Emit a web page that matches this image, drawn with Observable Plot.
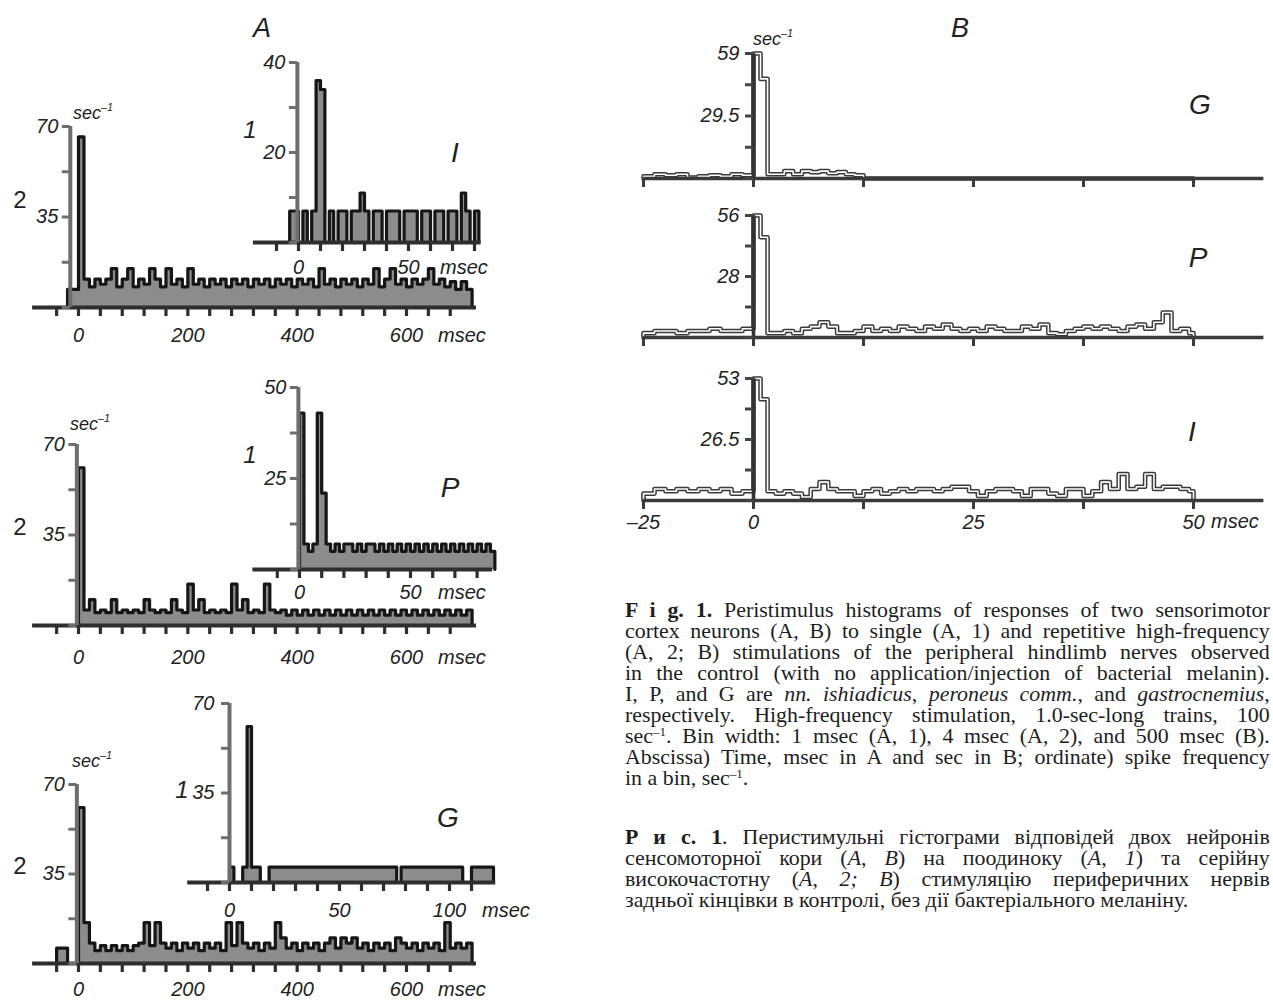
<!DOCTYPE html>
<html>
<head>
<meta charset="utf-8">
<script src="https://cdn.jsdelivr.net/npm/d3@7"></script>
<script src="https://cdn.jsdelivr.net/npm/@observablehq/plot@0.6"></script>
<style>
  body { margin: 0; background: #fff; }
  #root { position: relative; width: 1273px; height: 1000px; overflow: hidden; background: #fff;
          font-family: "Liberation Sans", Arial, sans-serif; }
  .lab { position: absolute; white-space: nowrap; color: #222; font-style: italic; line-height: 1; }
  .cap { position: absolute; left: 625px; width: 597px; font-family: "Liberation Serif", "Times New Roman", serif;
         font-size: 20.3px; line-height: 21px; color: #1e1e1e; transform: scaleX(1.08); transform-origin: 0 0; }
  .cap div { white-space: nowrap; text-align: justify; text-align-last: justify; }
  .cap div.last { text-align-last: left; }
  .cap sup { font-size: 0.6em; line-height: 0; vertical-align: 0.6em; }
</style>
</head>
<body>
<div id="root"></div>
<script>
// ================= DATA =================
// Neuron A, repetitive stimulation (A,2): spike frequency (sec^-1) per 10-msec step
const aMainBin = 10;
const aI_mainStart = -20;
const aI_main = [7,7,66,11,8,11,9,11,15,8,
                 11,15,8,11,9,15,11,8,15,9,
                 11,8,15,9,11,8,11,9,11,8,
                 11,9,11,8,11,9,11,8,11,9,
                 11,8,11,9,11,8,15,9,11,8,
                 11,9,11,8,11,9,15,8,11,15,
                 9,11,8,11,9,11,15,9,11,8,
                 10,7,10,7];
const aP_mainStart = 0;
const aP_main = [61,6,10,5,6,5,10,5,6,5,
                 6,5,10,6,5,6,5,10,6,5,
                 16,6,10,5,6,5,6,5,16,6,
                 10,5,6,5,16,6,5,6,4,6,
                 4,6,4,6,4,6,4,6,4,6,
                 4,6,4,6,4,6,4,6,4,6,
                 4,6,4,6,4,6,4,6,4,6,
                 4,6];
const aG_mainStart = -40;
const aG_main = [6,6,0,0,61,16,8,5,7,5,
                 7,5,7,5,7,8,16,7,16,8,
                 6,8,5,8,6,8,5,8,6,8,
                 5,16,7,16,8,6,8,5,8,6,
                 16,10,6,8,5,8,6,8,5,8,
                 10,6,10,8,10,6,8,5,8,6,
                 8,5,10,8,6,8,5,8,6,8,
                 5,16,6,8,6,8];

// Neuron A, single stimulation (A,1) insets: per 2-msec step
const aInsBin = 2;
const aI_insStart = -4;
const aI_ins = [7,7,0,7,0,7,36,34,0,7,
                0,7,7,0,7,7,11,7,0,7,
                7,0,7,7,7,0,7,7,7,0,
                7,7,0,7,7,0,7,7,0,11,
                7,0,7];
const aP_insStart = 0;
const aP_ins = [43,7,5,7,43,21,7,5,7,5,
                7,7,5,7,5,7,7,5,7,5,
                7,5,7,5,7,5,7,5,7,5,
                7,5,7,5,7,5,7,5,7,5,
                7,5,7,5];
const aG_insStart = 0;
const aG_ins = [6,0,0,6,61,6,6,0,0,6,
                6,6,6,6,6,6,6,6,6,6,
                6,6,6,6,6,6,6,6,6,6,
                6,6,6,6,6,6,6,6,0,6,
                6,6,6,6,6,6,6,6,6,6,
                6,6,6,0,0,6,6,6,6,6];

// Neuron B: step start times (msec) and values (sec^-1)
const bTime = [-25,-22.5,-20,-17.5,-15,-12.5,-10,-7.5,-5,-2.5,
               0,0.8,
               1.6,2.5,3.5,4.5,5.5,6.5,7.5,8.5,9.5,10.5,
               11.5,12.5,13.5,14.5,15.5,16.5,17.5,18.5,19.5,20.5,
               21.5,22.5,23.5,24.5,25.5,26.5,27.5,28.5,29.5,30.5,
               31.5,32.5,33.5,34.5,35.5,36.5,37.5,38.5,39.5,40.5,
               41.5,42.5,43.5,44.5,45.5,46.5,47.5,48.5,49.5];
const bEnd = 50;
const bG = [1,2,1.5,2,0.5,1,1.5,1,2,1.5,
            59,47,
            2,2,3.5,2,3.5,3,3.5,2.5,3,2,
            1.5,0,0,0,0,0,0,0,0,0,
            0,0,0,0,0,0,0,0,0,0,
            0,0,0,0,0,0,0,0,0,0,
            0,0,0,0,0,0,0,0,0];
const bP = [2,3,3,2,3,3,4,3,3,4,
            56,46,
            2,2,3,2,4,5,7,5,2,2,
            3,5,3,4,3,5,4,3,5,4,
            6,4,3,4,3,5,4,3,3,5,
            4,6,2,1.5,3,4,5,4,5,4,
            3,5,6,4,7,11.5,3,4,2];
const bI = [3,5,4,5,4,5,4,5,3,4,
            53,44,
            4,3,4,3,1.5,5,8,5,4,4,
            2,4,5,3,4,5,4,5,5,4,
            5,6,6,4,2,4,5,5,4,2,
            5,5,3,2,5,5,2,4,8,5,
            11.5,5,6,11.5,5,6,6,5,4];

// Axis ticks / labels
const aMainXTicks = [-40,0,40,80,120,160,200,240,280,320,360,400,440,480,520,560,600,640,680];
const aMainXLabels = [0,200,400,600];
const aMainYTicks = [0,17.5,35,52.5,70];
const aMainYLabels = [70,35];
const aInsXTicks = [-10,0,10,20,30,40,50,60,70,80];
const aInsXLabels = [0,50];
const aGInsXTicks = [-10,0,10,20,30,40,50,60,70,80,90,100,110];
const aGInsXLabels = [0,50,100];
const aIInsYTicks = [0,10,20,30,40], aIInsYLabels = [40,20];
const aPInsYTicks = [0,12.5,25,37.5,50], aPInsYLabels = [50,25];
const aGInsYTicks = [0,17.5,35,52.5,70], aGInsYLabels = [70,35];
const bXTicks = [-25,0,12.5,25,37.5,50];
const bXLabels = [-25,0,25,50];
const bGYTicks = [0,14.75,29.5,44.25,59], bGYLabels = [59,29.5];
const bPYTicks = [0,14,28,42,56], bPYLabels = [56,28];
const bIYTicks = [0,13.25,26.5,39.75,53], bIYLabels = [53,26.5];

const capEn = [
  '<b>F i g. 1.</b> Peristimulus histograms of responses of two sensorimotor',
  'cortex neurons (A, B) to single (A, 1) and repetitive high-frequency',
  '(A, 2; B) stimulations of the peripheral hindlimb nerves observed',
  'in the control (with no application/injection of bacterial melanin).',
  'I, P, and G are <i>nn. ishiadicus</i>, <i>peroneus comm.</i>, and <i>gastrocnemius</i>,',
  'respectively. High-frequency stimulation, 1.0-sec-long trains, 100',
  'sec<sup>–1</sup>. Bin width: 1 msec (A, 1), 4 msec (A, 2), and 500 msec (B).',
  'Abscissa) Time, msec in A and sec in B; ordinate) spike frequency',
  'in a bin, sec<sup>–1</sup>.'
];
const capUk = [
  '<b>Р и с. 1</b>. Перистимульні гістограми відповідей двох нейронів',
  'сенсомоторної кори (<i>A</i>, <i>B</i>) на поодиноку (<i>A</i>, <i>1</i>) та серійну',
  'високочастотну (<i>A</i>, <i>2; B</i>) стимуляцію периферичних нервів',
  'задньої кінцівки в контролі, без дії бактеріального меланіну.'
];

// ================= DRAWING =================
const root = document.getElementById("root");
const FONT = "Liberation Sans, Arial, sans-serif";
const fmt = d => (d < 0 ? "–" + Math.abs(d) : String(d));

function stepData(start, bw, values) {
  const pts = [{t: start, v: 0}];
  values.forEach((v, i) => pts.push({t: start + i * bw, v}));
  const end = start + values.length * bw;
  pts.push({t: end, v: values[values.length - 1]}, {t: end, v: 0});
  return pts;
}
function traceData(times, values, end) {
  const pts = [{t: times[0], v: 0}];
  times.forEach((t, i) => pts.push({t, v: values[i]}));
  pts.push({t: end, v: values[values.length - 1]}, {t: end, v: 0});
  return pts;
}
function mount(box, xd, xr, yd, yr, marks) {
  const [L, T, W, H] = box;
  const svg = Plot.plot({
    width: W, height: H, marginTop: 0, marginRight: 0, marginBottom: 0, marginLeft: 0,
    x: {type: "linear", domain: xd, range: xr.map(v => v - L), axis: null},
    y: {type: "linear", domain: yd, range: yr.map(v => v - T), axis: null},
    style: {background: "transparent", overflow: "visible", fontFamily: FONT},
    marks
  });
  Object.assign(svg.style, {position: "absolute", left: L + "px", top: T + "px"});
  root.appendChild(svg);
}
function lab(text, x, y, o = {}) {
  const d = document.createElement("div");
  d.className = "lab";
  d.innerHTML = text;
  d.style.left = x + "px";
  d.style.top = y + "px";
  d.style.fontSize = (o.size || 20) + "px";
  if (o.normal) d.style.fontStyle = "normal";
  const tx = o.anchor === "start" ? "0" : o.anchor === "end" ? "-100%" : "-50%";
  d.style.transform = `translate(${tx}, -50%)`;
  root.appendChild(d);
}

// A-type histogram panel
function aPanel(c) {
  const pts = stepData(c.start, c.bw, c.values);
  const marks = [
    Plot.areaY(pts, {x: "t", y: "v", curve: "step-after", fill: "#8c8c8c"}),
    Plot.lineY(pts, {x: "t", y: "v", curve: "step-after", stroke: "#161616", strokeWidth: 3.2}),
    Plot.ruleY([0], {x1: c.xLine[0], x2: c.xLine[1], stroke: "#2e2e2e", strokeWidth: 4.2}),
    Plot.ruleX(c.xTicks, {y1: 0, y2: 0, insetBottom: -9, stroke: "#2e2e2e", strokeWidth: 3.2}),
    Plot.ruleX([c.yAt], {y1: 0, y2: c.yd[1], stroke: "#6e6e6e", strokeWidth: 4}),
    Plot.ruleY(c.yTicks, {x1: c.yAt, x2: c.yAt, insetLeft: -8, stroke: "#6e6e6e", strokeWidth: 3}),
    Plot.text(c.yLabels, {x: c.yAt, y: d => d, text: fmt, dx: c.yDx ?? -12, textAnchor: "end",
      fontSize: 20, fontStyle: "italic", fill: "#222"}),
    Plot.text(c.xLabels, {x: d => d, y: 0, text: fmt, dy: c.xDy, fontSize: 20, fontStyle: "italic", fill: "#222"})
  ];
  mount(c.box, c.xd, c.xr, c.yd, c.yr, marks);
}

// B-type trace panel (double-line outline)
function bPanel(c) {
  const pts = traceData(bTime, c.values, bEnd);
  const marks = [
    Plot.lineY(pts, {x: "t", y: "v", curve: "step-after", stroke: "#3a3a3a", strokeWidth: 4.6}),
    Plot.lineY(pts, {x: "t", y: "v", curve: "step-after", stroke: "#ffffff", strokeWidth: 1.6}),
    Plot.ruleY([0], {x1: -25, x2: 58, stroke: "#3a3a3a", strokeWidth: 3.6}),
    Plot.ruleX(bXTicks, {y1: 0, y2: 0, insetBottom: -9, stroke: "#3a3a3a", strokeWidth: 3}),
    Plot.ruleX([0], {y1: 0, y2: c.yd[1], stroke: "#333", strokeWidth: 3.6}),
    Plot.ruleY(c.yTicks, {x1: 0, x2: 0, insetLeft: -8, stroke: "#444", strokeWidth: 3}),
    Plot.text(c.yLabels, {x: 0, y: d => d, text: fmt, dx: -14, textAnchor: "end",
      fontSize: 20, fontStyle: "italic", fill: "#222"})
  ];
  if (c.xLabels) marks.push(Plot.text(c.xLabels, {x: d => d, y: 0, text: fmt, dy: 22,
      fontSize: 20, fontStyle: "italic", fill: "#222"}));
  mount(c.box, [-25, 0, 50], [643, 753, 1193], c.yd, c.yr, marks);
}

const mainX = {xd: [0, 600], xr: [78, 406], xTicks: aMainXTicks, xLabels: aMainXLabels,
               yTicks: aMainYTicks, yLabels: aMainYLabels, yd: [0, 70], bw: aMainBin, xLine: [-84, 728]};

// ---- A / I ----
aPanel({...mainX, box: [0, 100, 500, 260], start: aI_mainStart, values: aI_main, yr: [307, 126], yAt: -15, xDy: 28});
aPanel({box: [240, 40, 260, 240], xd: [0, 50], xr: [298, 408], yd: [0, 40], yr: [242, 62],
        start: aI_insStart, bw: aInsBin, values: aI_ins, xLine: [-20.5, 83], xTicks: aInsXTicks, xLabels: aInsXLabels,
        yTicks: aIInsYTicks, yLabels: aIInsYLabels, yAt: -0.5, xDy: 25});
// ---- A / P ----
aPanel({...mainX, box: [0, 420, 500, 260], start: aP_mainStart, values: aP_main, yr: [625, 444], yAt: -3, xDy: 32});
aPanel({box: [240, 370, 260, 240], xd: [0, 50], xr: [299, 410], yd: [0, 50], yr: [569, 387],
        start: aP_insStart, bw: aInsBin, values: aP_ins, xLine: [-21, 87], xTicks: aInsXTicks, xLabels: aInsXLabels,
        yTicks: aPInsYTicks, yLabels: aPInsYLabels, yAt: -0.5, xDy: 23});
// ---- A / G ----
aPanel({...mainX, box: [0, 760, 500, 240], start: aG_mainStart, values: aG_main, yr: [963, 784], yAt: -3, xDy: 26});
aPanel({box: [170, 690, 330, 240], xd: [0, 100], xr: [229, 449], yd: [0, 70], yr: [882, 703],
        start: aG_insStart, bw: aInsBin, values: aG_ins, xLine: [-19, 121], xTicks: aGInsXTicks, xLabels: aGInsXLabels,
        yTicks: aGInsYTicks, yLabels: aGInsYLabels, yAt: 0, yDx: -15, xDy: 28});

// ---- B ----
bPanel({box: [600, 40, 673, 160], values: bG, yd: [0, 59], yr: [178, 53], yTicks: bGYTicks, yLabels: bGYLabels});
bPanel({box: [600, 200, 673, 160], values: bP, yd: [0, 56], yr: [337, 215], yTicks: bPYTicks, yLabels: bPYLabels});
bPanel({box: [600, 360, 673, 180], values: bI, yd: [0, 53], yr: [500, 378], yTicks: bIYTicks, yLabels: bIYLabels, xLabels: bXLabels});

// ---- annotations ----
lab("A", 262, 28, {size: 27});
lab("B", 960, 28, {size: 27});
// A / I
lab("sec<sup style='font-size:0.6em;vertical-align:0.7em'>–1</sup>", 73, 112, {size: 18, anchor: "start"});
lab("2", 20, 200, {size: 24, normal: true});
lab("msec", 438, 335, {anchor: "start"});
lab("msec", 440, 267, {anchor: "start"});
lab("1", 250, 130, {size: 24});
lab("I", 455, 153, {size: 28});
// A / P
lab("sec<sup style='font-size:0.6em;vertical-align:0.7em'>–1</sup>", 70, 423, {size: 18, anchor: "start"});
lab("2", 20, 527, {size: 24, normal: true});
lab("msec", 438, 657, {anchor: "start"});
lab("msec", 438, 592, {anchor: "start"});
lab("1", 250, 455, {size: 24});
lab("P", 450, 488, {size: 28});
// A / G
lab("sec<sup style='font-size:0.6em;vertical-align:0.7em'>–1</sup>", 72, 760, {size: 18, anchor: "start"});
lab("2", 20, 866, {size: 24, normal: true});
lab("msec", 438, 989, {anchor: "start"});
lab("msec", 482, 910, {anchor: "start"});
lab("1", 182, 790, {size: 24});
lab("G", 448, 818, {size: 28});
// B
lab("sec<sup style='font-size:0.6em;vertical-align:0.7em'>–1</sup>", 753, 38, {size: 18, anchor: "start"});
lab("G", 1200, 105, {size: 28});
lab("P", 1198, 258, {size: 28});
lab("I", 1192, 432, {size: 28});
lab("msec", 1211, 521, {anchor: "start"});

// ---- captions ----
function caption(lines, top) {
  const c = document.createElement("div");
  c.className = "cap";
  c.style.top = top + "px";
  lines.forEach((l, i) => {
    const d = document.createElement("div");
    d.innerHTML = l;
    if (i === lines.length - 1) d.className = "last";
    c.appendChild(d);
  });
  root.appendChild(c);
}
caption(capEn, 600);
caption(capUk, 827);
</script>
</body>
</html>
